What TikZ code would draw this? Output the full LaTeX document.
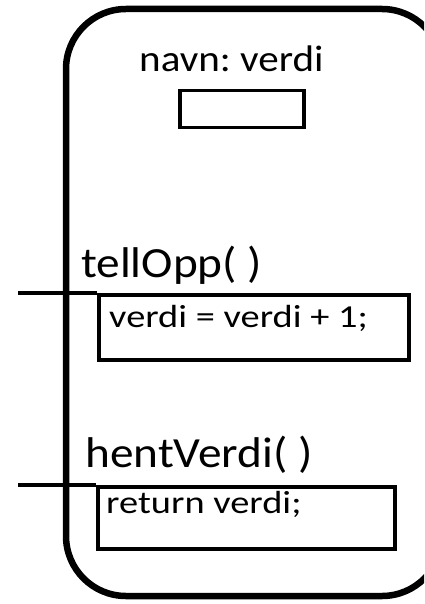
\documentclass[tikz,border=0pt]{standalone}
\usepackage{fontspec}
\setmainfont{Carlito}
\frenchspacing
\tikzset{
    objekt/.style={line width=6.5pt,rounded corners=60pt},
    felt/.style={draw,line width=3.5pt,inner sep=0pt,anchor=north west},
    tekst/.style={inner sep=0pt,anchor=base west},
    overskrift/.style={tekst,xscale=1.1,font=\fontsize{43}{43}\selectfont},
    kode/.style={tekst,xscale=1.2,font=\fontsize{32}{32}\selectfont},
    kall/.style={line width=3.5pt},
}
\newcommand\Metode[6]{%
    % name, baseline of heading, top-left of body, size of body, baseline of body text, body text
    \node[overskrift] (#1Navn) at (#2) {#1( )};
    \node[felt,minimum width=#4] (#1Kropp) at (#3) {};
    \node[kode] (#1Kode) at (#5) {#6};
    \coordinate (#1Inn) at (18,0 |- #1Kropp.north west);
    \draw[kall] (#1Inn) -- (#1Kropp.north west);
}

\begin{document}
\begin{tikzpicture}[x=1pt,y=-1pt]
    \clip (0,0) rectangle (424,604);
    \draw[objekt] (66,9) rectangle (442,596);
    % variabel
    \node[tekst,xscale=1.11,font=\fontsize{37}{37}\selectfont] (navn) at (139,72) {navn: verdi};
    \node[felt,minimum width=124pt,minimum height=37pt] (verdi) at (178,89) {};
    % metoder
    \Metode{tellOpp}{81,277}{97,293}{310pt,minimum height=65pt}{109,327}{verdi = verdi + 1;}
    \Metode{hentVerdi}{85,467}{96,485}{297pt,minimum height=62pt}{106,513}{return verdi;}
\end{tikzpicture}
\end{document}
